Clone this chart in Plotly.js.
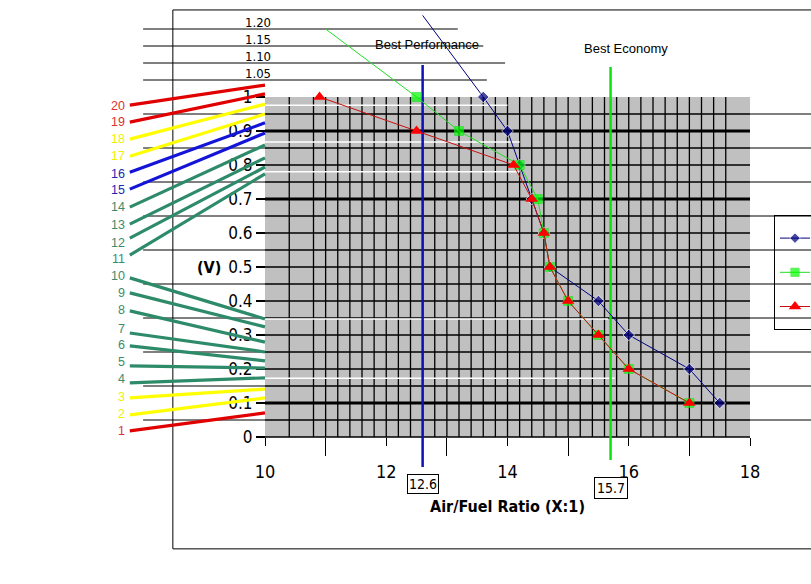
<!DOCTYPE html>
<html>
<head>
<meta charset="utf-8">
<script src="https://cdn.plot.ly/plotly-3.0.1.min.js"></script>
<style>html,body{margin:0;padding:0;background:#fff}</style>
</head>
<body>
<div id="chart" style="width:811px;height:584px"></div>
<script>
// sensor output (V) vs air/fuel ratio
var seriesNames = ['Series1', 'Series2', 'Series3'];
var afrNavy  = [12.6, 13.6, 14.0, 14.2, 14.4, 14.6, 14.7, 15.5, 16.0, 17.0, 17.5];
var voltNavy = [1.24, 1.0, 0.9, 0.8, 0.7, 0.6, 0.5, 0.4, 0.3, 0.2, 0.1];
var afrGreen  = [11.0, 12.5, 13.2, 14.2, 14.5, 14.6, 14.7, 15.0, 15.5, 16.0, 17.0];
var voltGreen = [1.2, 1.0, 0.9, 0.8, 0.7, 0.6, 0.5, 0.4, 0.3, 0.2, 0.1];
var afrRed  = [10.9, 12.5, 14.1, 14.4, 14.6, 14.7, 15.0, 15.5, 16.0, 17.0];
var voltRed = [1.0, 0.9, 0.8, 0.7, 0.6, 0.5, 0.4, 0.3, 0.2, 0.1];

var bestPerf = 12.6;
var bestEcon = 15.7;

var yTicks = [0, 0.1, 0.2, 0.3, 0.4, 0.5, 0.6, 0.7, 0.8, 0.9, 1];
var yTickText = ['0', '0.1', '0.2', '0.3', '0.4', '0.5', '0.6', '0.7', '0.8', '0.9', '1'];
var xTicks = [10, 12, 14, 16, 18];
var xMinorTicks = [11, 13, 15, 17];

// extra levels drawn above the plot
var upperLevels = [1.20, 1.15, 1.10, 1.05];
var upperLabels = ['1.20', '1.15', '1.10', '1.05'];
var upperEnds = [13.18, 13.6, 13.96, 13.66];

// numbered fan of lines on the left (label level, line start / end voltage)
var fanLabels = ['1','2','3','4','5','6','7','8','9','10','11','12','13','14','15','16','17','18','19','20'];
var fanLabelV = [0.018, 0.068, 0.118, 0.171, 0.221, 0.271, 0.318, 0.374, 0.424, 0.474,
                 0.524, 0.571, 0.624, 0.676, 0.726, 0.774, 0.826, 0.876, 0.926, 0.974];
var fanStartV = [0.018, 0.065, 0.115, 0.159, 0.209, 0.268, 0.306, 0.371, 0.424, 0.468,
                 0.535, 0.585, 0.626, 0.676, 0.729, 0.779, 0.826, 0.876, 0.926, 0.976];
var fanEndV   = [0.071, 0.115, 0.141, 0.174, 0.203, 0.224, 0.250, 0.279, 0.324, 0.347,
                 0.774, 0.794, 0.821, 0.859, 0.894, 0.924, 0.950, 0.979, 1.009, 1.035];

var RED = '#e00000', YEL = '#ffff00', TEAL = '#2e8b6a', BLUE = '#1414d8';
var fanColors = [RED, YEL, YEL, TEAL, TEAL, TEAL, TEAL, TEAL, TEAL, TEAL,
                 TEAL, TEAL, TEAL, TEAL, BLUE, BLUE, YEL, YEL, RED, RED];

var NARROW = '"Liberation Sans Narrow", "DejaVu Sans Condensed", "Arial Narrow", sans-serif';
var SANS = '"Liberation Sans", Arial, sans-serif';

var shapes = [];
function line(x0, y0, x1, y1, color, width, layer) {
  shapes.push({type: 'line', xref: 'x', yref: 'y', x0: x0, y0: y0, x1: x1, y1: y1,
    layer: layer || 'below', line: {color: color, width: width}});
}

// grey plot area
shapes.push({type: 'rect', xref: 'x', yref: 'y', x0: 10, x1: 18, y0: 0, y1: 1,
  layer: 'below', fillcolor: '#c0c0c0', line: {width: 0}});

// vertical grid
var vg = [10.4, 10.8];
for (var g = 11; g < 17.7; g += 0.2) vg.push(Math.round(g * 10) / 10);
vg.forEach(function (x) { line(x, 0, x, 1, '#000', 1.3); });

// horizontal grid
for (var k = 1; k < 20; k++) {
  var v = k * 0.05;
  var thick = (k === 2 || k === 14 || k === 18);
  line(10, v, 18, v, '#000', thick ? 3 : 1.3);
}
// stray white lines
[[0.976, 14.0], [0.868, 14.2], [0.78, 14.2], [0.347, 15.66], [0.173, 15.77]].forEach(function (w) {
  line(10, w[0], w[1], w[0], '#ffffff', 1.5);
});

// half-step lines running out left and right
for (var j = 0; j < 10; j++) {
  var hv = 0.05 + j * 0.1;
  line(7.99, hv, 10, hv, '#000', 1);
  line(18, hv, 19.1, hv, '#000', 1);
}
upperLevels.forEach(function (u, i) { line(7.99, u, upperEnds[i], u, '#000', 1); });

// frame
line(8.48, 1.256, 8.48, -0.329, '#000', 1);
line(8.48, 1.256, 19.1, 1.256, '#000', 1);
line(8.48, -0.329, 19.1, -0.329, '#000', 1);
// bottom axis line
line(10, 0, 18, 0, '#000', 1.3);

// best performance / economy markers
line(bestPerf, 1.094, bestPerf, -0.088, '#1010b8', 2.5);
line(bestEcon, 1.088, bestEcon, -0.068, '#10e010', 2.5);

// fan
fanLabels.forEach(function (lab, i) {
  line(7.77, fanStartV[i], 10.0, fanEndV[i], fanColors[i], 3.2, 'above');
});

var annotations = [];
fanLabels.forEach(function (lab, i) {
  var c = fanColors[i];
  var tc = c === RED ? '#e03030' : c === YEL ? '#f0f000' : c === TEAL ? '#3c8c6c' : '#2028b0';
  annotations.push({x: 7.71, y: fanLabelV[i], xref: 'x', yref: 'y', text: lab, showarrow: false,
    xanchor: 'right', yanchor: 'middle', borderpad: 0, font: {family: SANS, size: 12.5, color: tc}});
});
upperLevels.forEach(function (u, i) {
  annotations.push({x: 9.88, y: u, xref: 'x', yref: 'y', text: upperLabels[i], showarrow: false,
    xanchor: 'center', yanchor: 'bottom', yshift: -3, font: {family: NARROW, size: 13, color: '#000'}});
});
annotations.push({x: 12.67, y: 1.153, xref: 'x', yref: 'y', text: 'Best Performance', showarrow: false,
  font: {family: SANS, size: 13, color: '#000'}});
annotations.push({x: 15.95, y: 1.144, xref: 'x', yref: 'y', text: 'Best Economy', showarrow: false,
  font: {family: SANS, size: 13, color: '#000'}});
annotations.push({x: bestPerf, y: -0.138, xref: 'x', yref: 'y', text: String(bestPerf), showarrow: false,
  bordercolor: '#000', borderwidth: 1, borderpad: 1, bgcolor: '#fff',
  font: {family: NARROW, size: 14, color: '#000'}});
annotations.push({x: bestEcon, y: -0.150, xref: 'x', yref: 'y', text: String(bestEcon), showarrow: false,
  bordercolor: '#000', borderwidth: 1, borderpad: 2, bgcolor: '#fff',
  font: {family: NARROW, size: 14, color: '#000'}});
annotations.push({x: 14.0, y: -0.203, xref: 'x', yref: 'y', text: 'Air/Fuel Ratio (X:1)', showarrow: false,
  font: {family: NARROW, size: 16, color: '#000', weight: 'bold'}});
annotations.push({x: 9.08, y: 0.5, xref: 'x', yref: 'y', text: '(V)', showarrow: false,
  font: {family: NARROW, size: 16, color: '#000', weight: 'bold'}});

var data = [
  {x: afrNavy, y: voltNavy, name: seriesNames[0], type: 'scatter', mode: 'lines+markers',
   line: {color: '#000080', width: 1},
   marker: {symbol: 'diamond', size: afrNavy.map(function (a, i) { return i === 0 ? 0 : 9; }), color: '#000080'}},
  {x: afrGreen, y: voltGreen, name: seriesNames[1], type: 'scatter', mode: 'lines+markers',
   line: {color: '#20e020', width: 1},
   marker: {symbol: 'square', size: afrGreen.map(function (a, i) { return i === 0 ? 0 : 9; }), color: '#00ff00'}},
  {x: afrRed, y: voltRed, name: seriesNames[2], type: 'scatter', mode: 'lines+markers',
   line: {color: '#c81010', width: 1},
   marker: {symbol: 'triangle-up', size: 11, color: '#ff0000'}}
];

var layout = {
  width: 811,
  height: 584,
  margin: {l: 0, r: 0, t: 0, b: 0, pad: 0, autoexpand: false},
  paper_bgcolor: '#fff',
  plot_bgcolor: '#fff',
  showlegend: true,
  legend: {x: 774 / 811, y: 1 - 215 / 584, xanchor: 'left', yanchor: 'top',
    bgcolor: 'rgba(0,0,0,0)', bordercolor: '#000', borderwidth: 1,
    font: {family: SANS, size: 24, color: '#000'}},
  xaxis: {range: [10 - 265 / 60.625, 10 + 546 / 60.625], anchor: 'free', position: 147 / 584,
    showgrid: false, zeroline: false, showline: false,
    tickmode: 'array', tickvals: xTicks, ticks: 'outside', ticklen: 8, tickcolor: '#000', tickwidth: 1,
    ticklabelstandoff: 10,
    minor: {tickmode: 'array', tickvals: xMinorTicks, ticks: 'outside', ticklen: 18, tickcolor: '#000', showgrid: false},
    tickfont: {family: NARROW, size: 18, color: '#000'}},
  yaxis: {range: [-147 / 340, 437 / 340], anchor: 'free', position: 265 / 811, side: 'left',
    showgrid: false, zeroline: false, showline: false,
    tickmode: 'array', tickvals: yTicks, ticktext: yTickText, ticks: 'outside', ticklen: 9,
    tickcolor: '#000', tickwidth: 1.3,
    tickfont: {family: NARROW, size: 17, color: '#000'}},
  shapes: shapes,
  annotations: annotations
};

Plotly.newPlot('chart', data, layout, {staticPlot: true});
</script>
</body>
</html>
